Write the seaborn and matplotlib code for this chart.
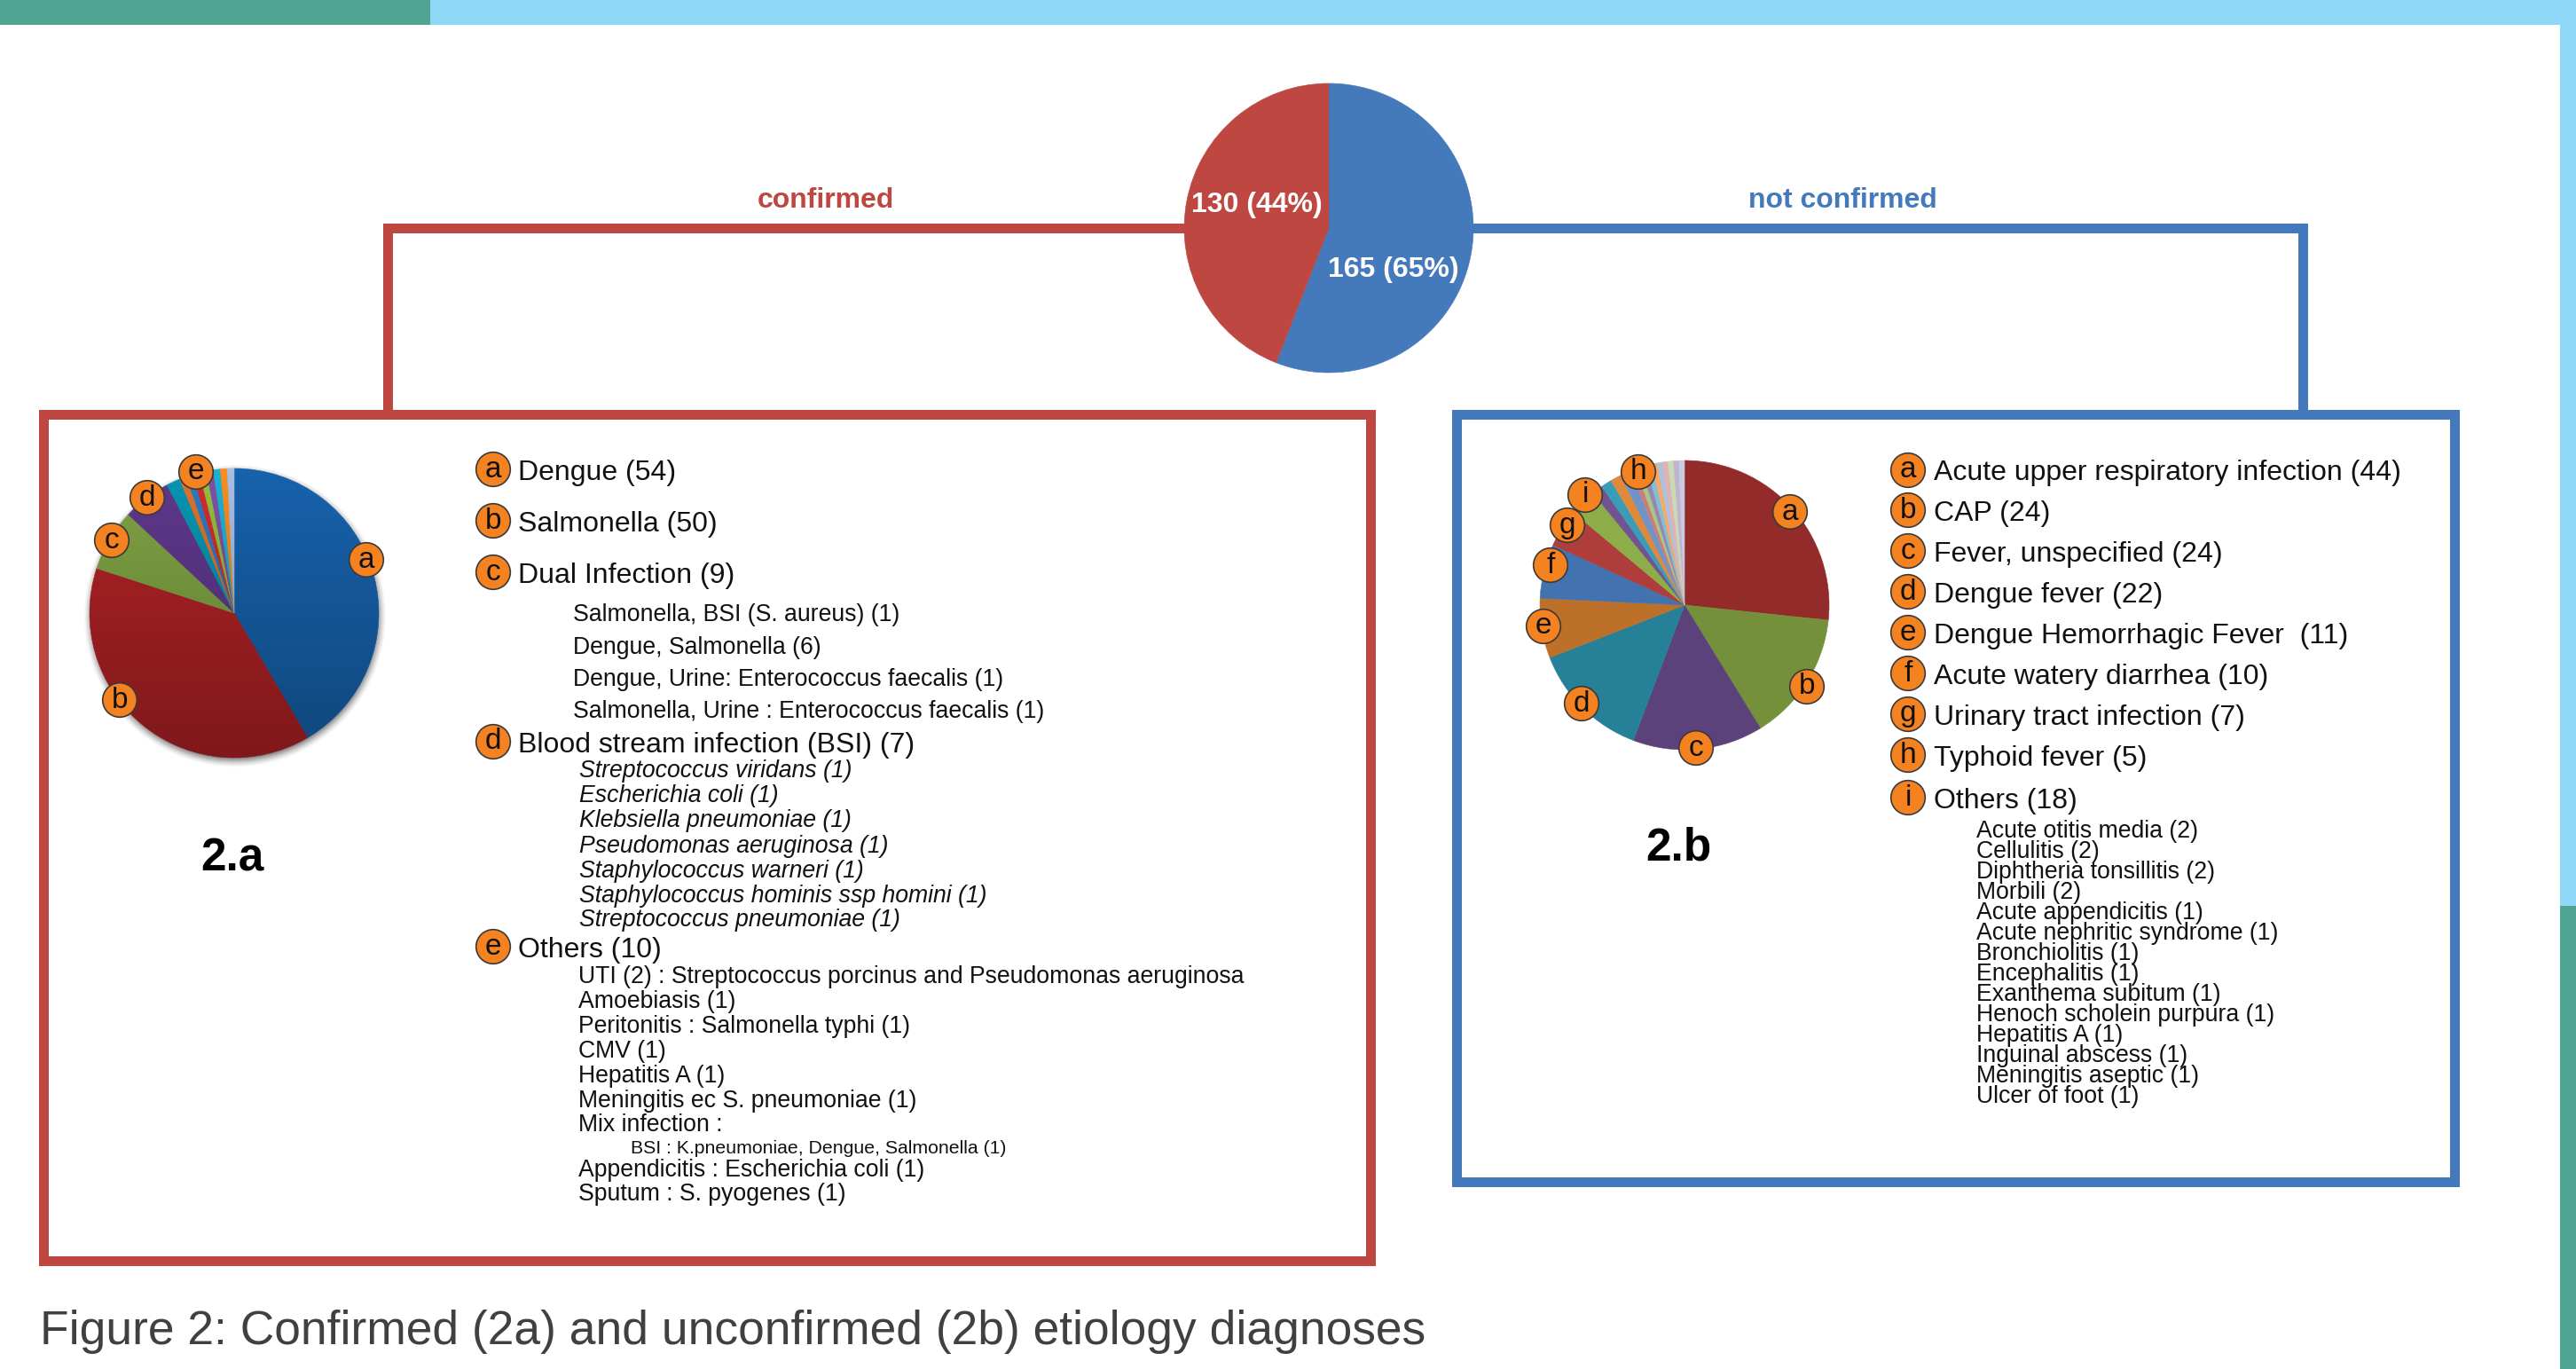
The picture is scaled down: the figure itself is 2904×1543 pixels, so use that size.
import numpy as np
import matplotlib
matplotlib.use("Agg")
import matplotlib.pyplot as plt
from matplotlib.patches import Circle, Rectangle
import seaborn as sns

# ---- data ----
overall_counts = [165, 130]
overall_labels = ["165 (65%)", "130 (44%)"]
overall_colors = ["#4479BC", "#BE4742"]

confirmed_counts = [54, 50, 9, 7, 2, 1, 1, 1, 1, 1, 1, 1, 1]
confirmed_colors = ["#1762AC", "#B02226", "#80A344", "#5F388C", "#0795B2", "#DB742C",
                    "#3078C4", "#D42C2C", "#93BF3E", "#7F52A4", "#1BB2D6", "#F88D20", "#A8BFE4"]

unconfirmed_counts = [44, 24, 24, 22, 11, 10, 7, 5, 2, 2, 2, 2, 1, 1, 1, 1, 1, 1, 1, 1, 1, 1]
unconfirmed_colors = ["#932B2B", "#74903A", "#5C427A", "#268098", "#BC7029", "#4273B0",
                      "#AE3D3B", "#8CAD48", "#70538F", "#3A9DB8", "#E0893A", "#7094C6",
                      "#C87D7C", "#A9C583", "#9786B2", "#7EBFD3", "#F4A96B", "#AFC0DD",
                      "#DDB3B3", "#CBDAB3", "#BFB5D0", "#C9C9E0"]

confirmed_main = ["Dengue (54)", "Salmonella (50)", "Dual Infection (9)",
                  "Blood stream infection (BSI) (7)", "Others (10)"]
confirmed_dual = ["Salmonella, BSI (S. aureus) (1)", "Dengue, Salmonella (6)",
                  "Dengue, Urine: Enterococcus faecalis (1)",
                  "Salmonella, Urine : Enterococcus faecalis (1)"]
confirmed_bsi = ["Streptococcus viridans (1)", "Escherichia coli (1)", "Klebsiella pneumoniae (1)",
                 "Pseudomonas aeruginosa (1)", "Staphylococcus warneri (1)",
                 "Staphylococcus hominis ssp homini (1)", "Streptococcus pneumoniae (1)"]
confirmed_others = ["UTI (2) : Streptococcus porcinus and Pseudomonas aeruginosa", "Amoebiasis (1)",
                    "Peritonitis : Salmonella typhi (1)", "CMV (1)", "Hepatitis A (1)",
                    "Meningitis ec S. pneumoniae (1)", "Mix infection :"]
confirmed_mix = "BSI : K.pneumoniae, Dengue, Salmonella (1)"
confirmed_tail = ["Appendicitis : Escherichia coli (1)", "Sputum : S. pyogenes (1)"]

unconfirmed_main = ["Acute upper respiratory infection (44)", "CAP (24)", "Fever, unspecified (24)",
                    "Dengue fever (22)", "Dengue Hemorrhagic Fever  (11)", "Acute watery diarrhea (10)",
                    "Urinary tract infection (7)", "Typhoid fever (5)", "Others (18)"]
unconfirmed_others = ["Acute otitis media (2)", "Cellulitis (2)", "Diphtheria tonsillitis (2)", "Morbili (2)",
                      "Acute appendicitis (1)", "Acute nephritic syndrome (1)", "Bronchiolitis (1)",
                      "Encephalitis (1)", "Exanthema subitum (1)", "Henoch scholein purpura (1)",
                      "Hepatitis A (1)", "Inguinal abscess (1)", "Meningitis aseptic (1)", "Ulcer of foot (1)"]

# ---- style ----
W, H = 2904, 1543
RED, BLUE = "#BE4742", "#4479BC"
SKY, TEAL = "#8FD8F8", "#4FA492"
BADGE = "#F58220"
INK = "#111111"

sns.set_theme(style="white")
plt.rcParams["font.family"] = ["Liberation Sans", "DejaVu Sans"]

fig = plt.figure(figsize=(W / 100, H / 100), dpi=100, facecolor="white")


def px_axes(zorder):
    """Full-figure axes measured in pixels, y running downward."""
    ax = fig.add_axes([0, 0, 1, 1], zorder=zorder)
    ax.set_xlim(0, W)
    ax.set_ylim(H, 0)
    ax.axis("off")
    ax.patch.set_visible(False)
    return ax


def draw_pie(cx, cy, r, counts, colors, shaded=False):
    pad = 1.2
    ax = fig.add_axes([(cx - pad * r) / W, 1 - (cy + pad * r) / H, 2 * pad * r / W, 2 * pad * r / H], zorder=2)
    palette = sns.color_palette(colors)
    wedges, _ = ax.pie(counts, colors=palette, startangle=90, counterclock=False, radius=1,
                       wedgeprops=dict(zorder=2))
    for w in wedges:
        w.set_edgecolor(w.get_facecolor())
        w.set_linewidth(0.4)
    if shaded:
        # soft drop shadow beneath the disc and a top-to-bottom darkening over it
        n = 500
        g = np.linspace(-pad, pad, n)
        xx, yy = np.meshgrid(g, g)
        d = np.hypot(xx - 0.005, yy + 0.02)
        shadow = np.zeros((n, n, 4))
        shadow[..., 3] = 0.5 * np.clip((1.05 - d) / 0.07, 0, 1) ** 1.5
        ax.imshow(shadow, extent=[-pad, pad, -pad, pad], origin="lower", zorder=1, interpolation="bilinear")
        shade = np.zeros((n, n, 4))
        shade[..., 3] = np.clip(0.28 * (1 - yy) / 2, 0, 0.28)
        im = ax.imshow(shade, extent=[-pad, pad, -pad, pad], origin="lower", zorder=3, interpolation="bilinear")
        im.set_clip_path(Circle((0, 0), 1.0, transform=ax.transData))
    ax.set_xlim(-pad, pad)
    ax.set_ylim(-pad, pad)
    ax.set_aspect("equal")
    ax.axis("off")
    return ax


back = px_axes(0)
front = px_axes(5)

# ---- page strips ----
back.add_patch(Rectangle((0, 0), W, 28, color=SKY, lw=0))
back.add_patch(Rectangle((0, 0), 485, 28, color=TEAL, lw=0))
back.add_patch(Rectangle((2886, 0), 18, 1021, color=SKY, lw=0))
back.add_patch(Rectangle((2886, 1021), 18, H - 1021, color=TEAL, lw=0))

# ---- frames and connectors ----
LW = 11 * 0.72
back.add_patch(Rectangle((48.5, 467), 1496.5, 954, fill=False, ec=RED, lw=LW, joinstyle="miter"))
back.add_patch(Rectangle((1642, 467), 1125, 865, fill=False, ec=BLUE, lw=LW, joinstyle="miter"))
back.plot([436.5, 436.5, 1498], [467, 257, 257], color=RED, lw=LW, solid_joinstyle="miter", solid_capstyle="butt")
back.plot([1498, 2595.5, 2595.5], [257, 257, 467], color=BLUE, lw=LW, solid_joinstyle="miter", solid_capstyle="butt")

# ---- pies ----
draw_pie(1498, 257, 163, overall_counts, overall_colors)
draw_pie(264, 691, 163, confirmed_counts, confirmed_colors, shaded=True)
draw_pie(1899, 682, 163, unconfirmed_counts, unconfirmed_colors)

MAIN, SUB, SMALL = 23, 19.2, 15.3


def label(x, y, s, size=SUB, **kw):
    kw.setdefault("color", INK)
    front.text(x, y, s, fontsize=size, va="baseline", ha=kw.pop("ha", "left"), **kw)


def badge(x, y, letter):
    front.add_patch(Circle((x, y), 19.3, fc=BADGE, ec="#3A3A3A", lw=1.2))
    front.text(x, y, letter, fontsize=MAIN + 1, ha="center", va="center", color=INK)


# ---- headline labels ----
label(1343, 239, overall_labels[1], size=MAIN, color="white", fontweight="bold")
label(1497, 312, overall_labels[0], size=MAIN, color="white", fontweight="bold")
label(930.5, 234.5, "confirmed", size=23, color=RED, fontweight="bold", ha="center")
label(2077, 234.5, "not confirmed", size=23, color=BLUE, fontweight="bold", ha="center")
label(262, 981, "2.a", size=37, fontweight="bold", color="black", ha="center")
label(1892, 969, "2.b", size=37, fontweight="bold", color="black", ha="center")

# ---- badges on the pie rims ----
rim_a = dict(a=(413, 631), b=(135, 789), c=(126, 609), d=(166, 561), e=(221, 532))
rim_b = dict(a=(2018, 577), b=(2037, 774), c=(1912, 843), d=(1783, 793), e=(1740, 706),
             f=(1748, 637), g=(1767, 592), i=(1787, 558), h=(1847, 532))
for letter, (x, y) in rim_a.items():
    badge(x, y, letter)
for letter, (x, y) in rim_b.items():
    badge(x, y, letter)

# ---- confirmed list ----
for letter, y, s in zip("abcde", [529, 587, 645, 836, 1067], confirmed_main):
    badge(556, y, letter)
    label(583.5, y + 12, s, size=MAIN)
for y, s in zip([700, 737, 773, 809], confirmed_dual):
    label(646, y, s, size=SUB)
for y, s in zip([876, 904, 932, 961, 989, 1017, 1044], confirmed_bsi):
    label(653, y, s, fontstyle="italic")
for y, s in zip([1107, 1135, 1163, 1191, 1219, 1247, 1274], confirmed_others):
    label(652, y + 1, s)
label(711, 1300, confirmed_mix, size=SMALL)
for y, s in zip([1325, 1352], confirmed_tail):
    label(652, y + 1, s)

# ---- unconfirmed list ----
for letter, y, s in zip("abcdefghi", [530, 575, 621, 667, 713, 759, 805, 851, 899], unconfirmed_main):
    badge(2151, y, letter)
    label(2179.5, y + 11.5, s, size=MAIN)
for i, s in enumerate(unconfirmed_others):
    label(2228, 944 + i * 23, s)

# ---- caption ----
label(45, 1515, "Figure 2: Confirmed (2a) and unconfirmed (2b) etiology diagnoses", size=38.4, color="#404040")

fig.savefig("out.png", dpi=100, facecolor="white")
